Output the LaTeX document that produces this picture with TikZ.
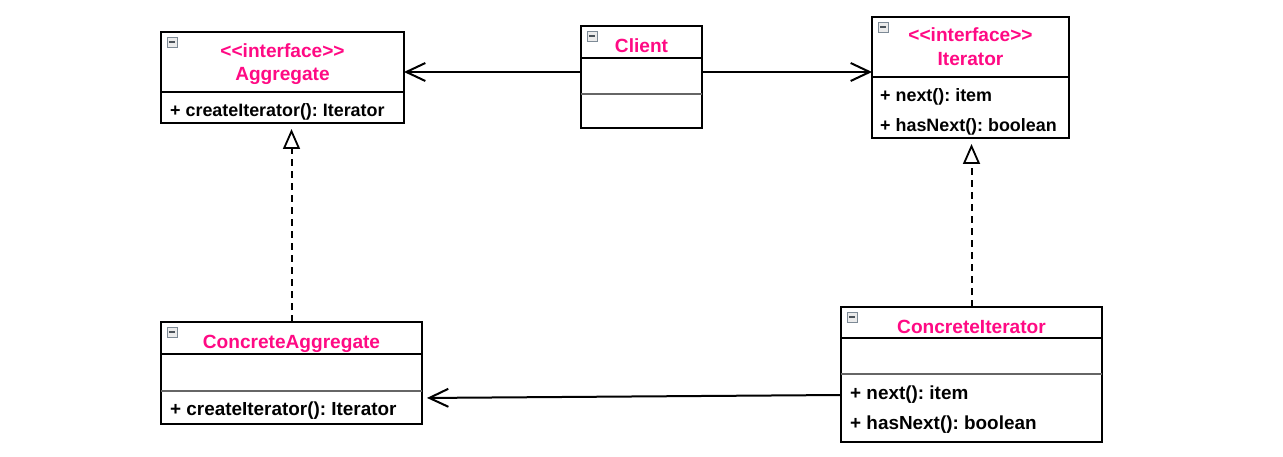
\documentclass[tikz,border=0pt]{standalone}
\usepackage{fontspec}
\setmainfont{Liberation Sans}[Ligatures=TeXOff]
\usetikzlibrary{arrows.meta}
\definecolor{umlpink}{HTML}{FF0A84}
\definecolor{icongray}{HTML}{7D8A96}
\frenchspacing
\begin{document}
\begin{tikzpicture}[x=1pt,y=-1pt,
  classbox/.style={draw=black, line width=2pt, fill=white, anchor=north west,
    inner sep=0pt, outer sep=0pt},
  title/.style={anchor=base, text=umlpink, inner sep=0pt,
    font=\bfseries\fontsize{19.1}{23}\selectfont},
  member/.style={anchor=base west, inner sep=0pt,
    font=\bfseries\fontsize{17.9}{21}\selectfont},
  bigmember/.style={member, font=\bfseries\fontsize{18.9}{22}\selectfont},
  sepline/.style={line width=2pt},
  sepgray/.style={line width=1.3pt, draw=black!60},
  assoc/.style={line width=2pt,
    -{Straight Barb[length=19pt, width=18pt, line width=2pt]}},
  realize/.style={line width=2pt, dash pattern=on 7pt off 5pt, shorten >=6pt,
    -{Triangle[open, length=20pt, width=17pt, line width=1.8pt]}},
  collapse/.pic={
    \draw[icongray, fill=black!8, line width=0.9pt] (0,0) rectangle (10,10);
    \draw[icongray!60!black, line width=1.4pt] (2.2,5) -- (7.8,5);
  },
]
\useasboundingbox (0,0) rectangle (1283,457);

% class boxes
\node[classbox, minimum width=243pt, minimum height=91pt]  (agg)    at (161,32)  {};
\node[classbox, minimum width=121pt, minimum height=102pt] (client) at (581,26)  {};
\node[classbox, minimum width=197pt, minimum height=121pt] (iter)   at (872,17)  {};
\node[classbox, minimum width=261pt, minimum height=102pt] (cagg)   at (161,322) {};
\node[classbox, minimum width=261pt, minimum height=135pt] (citer)  at (841,307) {};

% compartment separators
\draw[sepline] (agg.west |- 0,92)    -- (agg.east |- 0,92);
\draw[sepline] (client.west |- 0,58) -- (client.east |- 0,58);
\draw[sepgray] (client.west |- 0,94) -- (client.east |- 0,94);
\draw[sepline] (iter.west |- 0,77)   -- (iter.east |- 0,77);
\draw[sepline] (cagg.west |- 0,354)  -- (cagg.east |- 0,354);
\draw[sepgray] (cagg.west |- 0,391)  -- (cagg.east |- 0,391);
\draw[sepline] (citer.west |- 0,338) -- (citer.east |- 0,338);
\draw[sepgray] (citer.west |- 0,374) -- (citer.east |- 0,374);

% collapse icons
\pic[shift={(6,5)}] at (agg.north west)    {collapse};
\pic[shift={(6,5)}] at (client.north west) {collapse};
\pic[shift={(6,5)}] at (iter.north west)   {collapse};
\pic[shift={(6,5)}] at (cagg.north west)   {collapse};
\pic[shift={(6,5)}] at (citer.north west)  {collapse};

% texts
\node[title] (aggst)   at (282.5,58) {<<interface>>};
\node[title] (aggname) at (282.5,81) {Aggregate};
\node[member] (aggm1)  at (170,117)  {+ createIterator(): Iterator};

\node[title] (clientname) at (641.5,53) {Client};

\node[title] (iterst)   at (970.5,42) {<<interface>>};
\node[title] (itername) at (970.5,66) {Iterator};
\node[member] (iterm1)  at (880,102)  {+ next(): item};
\node[member] (iterm2)  at (880,132)  {+ hasNext(): boolean};

\node[title] (caggname) at (291.5,348) {ConcreteAggregate};
\node[bigmember] (caggm1)  at (170,415)   {+ createIterator(): Iterator};

\node[title] (citername) at (971.5,333) {ConcreteIterator};
\node[bigmember] (citerm1)  at (850,399)   {+ next(): item};
\node[bigmember] (citerm2)  at (850,429)   {+ hasNext(): boolean};

% associations
\draw[assoc] (client.west |- 0,72) -- (agg.east |- 0,72);
\draw[assoc] (client.east |- 0,72) -- (iter.west |- 0,72);
\draw[assoc, shorten >=5pt] (citer.west |- 0,395) -- (cagg.east |- 0,398);

% realizations
\draw[realize] (cagg.north)  -- (cagg.north |- agg.south);
\draw[realize] (citer.north) -- (citer.north |- iter.south);
\end{tikzpicture}
\end{document}
